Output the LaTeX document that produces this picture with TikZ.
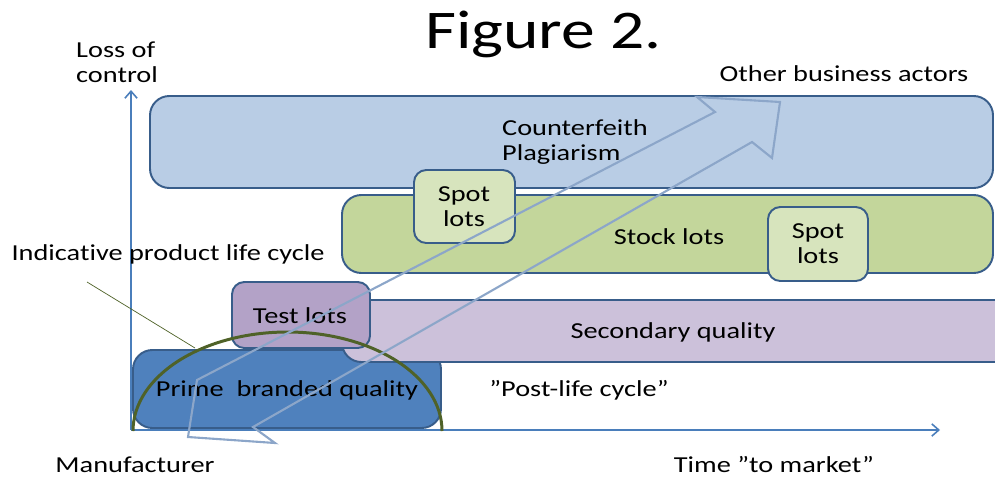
\documentclass[tikz,border=0pt]{standalone}
\usepackage{fontspec}
\setmainfont{Carlito}[FakeStretch=1.24, Ligatures=NoCommon]
\usetikzlibrary{arrows.meta}

\definecolor{axisblue}{RGB}{74,126,187}
\definecolor{boxline}{RGB}{56,93,138}
\definecolor{cpfill}{RGB}{185,205,229}
\definecolor{stockfill}{RGB}{195,214,155}
\definecolor{spotfill}{RGB}{215,228,189}
\definecolor{secfill}{RGB}{204,193,218}
\definecolor{testfill}{RGB}{179,162,199}
\definecolor{primefill}{RGB}{79,129,189}
\definecolor{cycleolive}{RGB}{79,98,40}
\definecolor{flowgray}{RGB}{140,166,201}

\begin{document}
\begin{tikzpicture}[
    every node/.style={font=\fontsize{13}{14.2}\selectfont, text=black},
    bigbox/.style={draw=boxline, line width=1.1pt, rounded corners=11pt},
    smallbox/.style={draw=boxline, line width=1.1pt, rounded corners=7pt},
    axis/.style={axisblue, line width=0.9pt, -{Straight Barb[length=4pt,width=7pt]}}
]
\useasboundingbox (0,0) rectangle (19.9,9.6);

\node[font=\fontsize{31}{34}\selectfont, anchor=base] (title) at (10.87, 8.64) {Figure 2.};
\node[anchor=west, align=left] (lossLabel) at (1.40, 8.36) {Loss of\\control};

% axes
\coordinate (origin) at (2.62, 1.0);
\coordinate (yend) at (2.62, 7.8);
\coordinate (xend) at (18.8, 1.0);
\draw[axis] (origin) -- (yend);
\draw[axis] (origin) -- (xend);

% layers
\draw[bigbox, fill=cpfill] (3.0,7.68) rectangle (19.86,5.84);
\node[anchor=west, align=left] (cpText) at (9.92, 6.76) {Counterfeith\\Plagiarism};

\draw[bigbox, fill=stockfill] (6.84,5.7) rectangle (19.86,4.14);
\node (stockText) at (13.38, 4.86) {Stock lots};

\draw[smallbox, fill=spotfill] (8.28,6.2) rectangle (10.3,4.74);
\node[align=center] (spotA) at (9.28, 5.46) {Spot\\lots};

\draw[smallbox, fill=spotfill] (15.36,5.46) rectangle (17.36,3.98);
\node[align=center] (spotB) at (16.36, 4.72) {Spot\\lots};

\draw[bigbox, fill=primefill] (2.66,2.6) rectangle (8.82,1.04);
\node (primeText) at (5.74, 1.8) {Prime\ \ branded quality};

\draw[bigbox, fill=secfill] (6.84,3.6) rectangle (20.6,2.36);
\node (secText) at (13.46, 2.96) {Secondary quality};

\draw[smallbox, fill=testfill] (4.64,3.96) rectangle (7.4,2.64);
\node (testText) at (6.0, 3.28) {Test lots};

% life cycle
\draw[cycleolive, line width=1.7pt] (2.66,0.98) arc[start angle=180, end angle=0, x radius=3.09, y radius=1.98];
\node (plcLabel) at (3.36, 4.52) {Indicative product life cycle};
\coordinate (callStart) at (1.74, 3.96);
\coordinate (callEnd) at (3.9, 2.64);
\draw[cycleolive, thin] (callStart) -- (callEnd);

% flow arrow
\draw[flowgray, line width=1.2pt, line join=miter] (3.76,0.86) -- (3.94,2.0) -- (14.3,7.36) -- (13.94,7.66) -- (15.6,7.56) -- (15.44,6.44) -- (15.04,6.76) -- (5.06,1.06) -- (5.5,0.74) -- cycle;

\node (otherLabel) at (16.88, 8.12) {Other business actors};
\node (postLabel) at (11.58, 1.8) {”Post-life cycle”};
\node (manuLabel) at (2.7, 0.3) {Manufacturer};
\node (timeLabel) at (15.48, 0.3) {Time ”to market”};

\end{tikzpicture}
\end{document}
